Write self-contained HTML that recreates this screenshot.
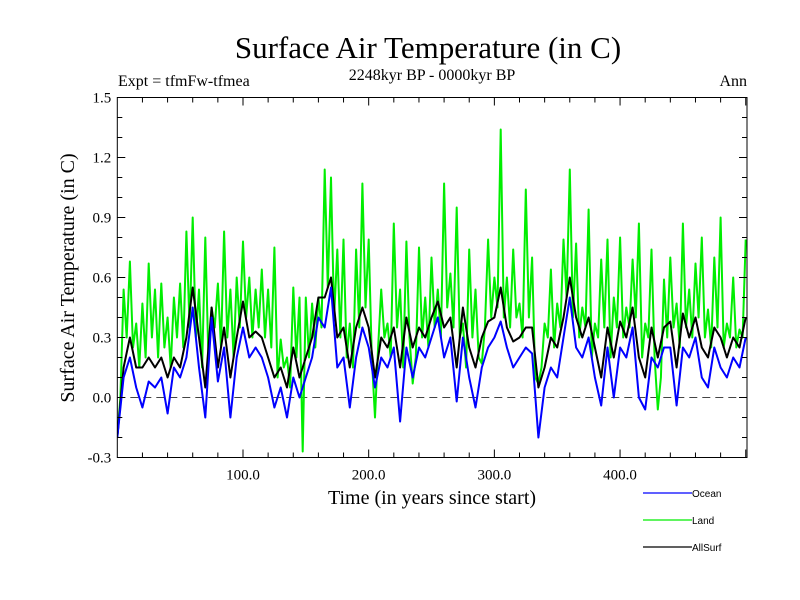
<!DOCTYPE html>
<html><head><meta charset="utf-8"><style>
body{margin:0;background:#fff}
svg{display:block}
text{font-family:"Liberation Serif",serif;fill:#000}
</style></head><body>
<svg id="chart" width="800" height="600" viewBox="0 0 800 600" xmlns="http://www.w3.org/2000/svg">
<text x="428" y="58" font-size="31" text-anchor="middle">Surface Air Temperature (in C)</text>
<text x="432" y="80" font-size="16" text-anchor="middle">2248kyr BP - 0000kyr BP</text>
<text x="118" y="86" font-size="16">Expt = tfmFw-tfmea</text>
<text x="747" y="86" font-size="16" text-anchor="end">Ann</text>
<text transform="translate(74,278) rotate(-90)" font-size="20" text-anchor="middle">Surface Air Temperature (in C)</text>
<text x="432" y="504" font-size="20" text-anchor="middle">Time (in years since start)</text>
<g id="plot"></g>
<g id="axes"></g>
<g id="legend"></g>
</svg>
<script>
const yearStart = 0;
const yearStep = 5;
const oceanValues = [-0.2,0.1,0.2,0.05,-0.05,0.08,0.05,0.1,-0.08,0.15,0.1,0.2,0.45,0.15,-0.1,0.4,0.08,0.25,-0.1,0.2,0.35,0.2,0.25,0.2,0.1,-0.05,0.05,-0.1,0.1,0.0,0.1,0.2,0.4,0.35,0.55,0.15,0.2,-0.05,0.2,0.35,0.25,0.05,0.2,0.15,0.25,-0.12,0.25,0.1,0.25,0.2,0.3,0.4,0.2,0.3,-0.02,0.3,0.1,-0.05,0.15,0.25,0.3,0.38,0.25,0.15,0.2,0.25,0.22,-0.2,0.05,0.15,0.1,0.3,0.5,0.25,0.2,0.3,0.1,-0.04,0.25,0.0,0.25,0.2,0.35,0.0,-0.06,0.2,0.15,0.25,0.25,-0.04,0.25,0.2,0.3,0.1,0.05,0.25,0.15,0.1,0.2,0.15,0.3];
const allSurfValues = [-0.2,0.15,0.3,0.15,0.15,0.2,0.15,0.2,0.1,0.2,0.15,0.3,0.55,0.3,0.05,0.45,0.15,0.35,0.1,0.3,0.48,0.3,0.33,0.3,0.2,0.1,0.15,0.05,0.25,0.1,0.2,0.3,0.5,0.5,0.6,0.3,0.35,0.15,0.35,0.45,0.35,0.1,0.3,0.25,0.35,0.15,0.4,0.25,0.35,0.3,0.4,0.48,0.35,0.4,0.15,0.45,0.25,0.15,0.3,0.38,0.4,0.55,0.35,0.28,0.3,0.35,0.35,0.05,0.15,0.3,0.25,0.4,0.6,0.4,0.3,0.4,0.25,0.1,0.35,0.2,0.38,0.3,0.45,0.2,0.1,0.35,0.2,0.35,0.38,0.15,0.42,0.3,0.4,0.25,0.2,0.35,0.3,0.2,0.3,0.25,0.4];
const landPeaks = [-0.2,0.54,0.68,0.37,0.47,0.67,0.54,0.57,0.4,0.5,0.57,0.83,0.9,0.54,0.8,0.45,0.57,0.83,0.54,0.6,0.78,0.6,0.54,0.64,0.54,0.75,0.29,0.2,0.55,0.5,0.5,0.47,0.5,1.14,1.1,0.74,0.79,0.37,0.74,1.07,0.79,-0.1,0.54,0.37,0.87,0.54,0.78,0.07,0.75,0.5,0.7,0.54,1.07,0.62,0.95,0.37,0.74,0.54,0.17,0.79,0.6,1.34,0.6,0.74,0.47,1.04,0.7,0.07,0.37,0.64,0.47,0.79,1.14,0.77,0.45,0.94,0.37,0.69,0.79,0.5,0.8,0.45,0.69,0.87,0.37,0.74,-0.06,0.59,0.7,0.47,0.87,0.54,0.67,0.8,0.44,0.7,0.9,0.37,0.6,0.34,0.79];
const landTroughs = [0.0,0.3,0.25,0.15,0.2,0.3,0.2,0.25,0.15,0.3,0.25,0.35,0.3,0.15,0.2,0.35,0.25,0.3,0.2,0.35,0.4,0.3,0.35,0.3,0.25,0.1,0.15,0.05,0.2,-0.27,0.2,0.25,0.35,0.55,0.4,0.3,0.2,0.15,0.35,0.45,0.2,0.25,0.3,0.2,0.35,0.15,0.3,0.2,0.3,0.25,0.35,0.3,0.45,0.35,0.3,0.15,0.3,0.2,0.35,0.4,0.45,0.4,0.35,0.4,0.3,0.4,0.1,0.15,0.3,0.25,0.35,0.5,0.4,0.3,0.35,0.2,0.3,0.35,0.2,0.35,0.3,0.35,0.4,0.2,0.3,0.2,0.1,0.3,0.35,0.25,0.35,0.3,0.4,0.3,0.25,0.35,0.25,0.3,0.25,0.3];
const yTickLabels = ["-0.3","0.0","0.3","0.6","0.9","1.2","1.5"];
const xTickLabels = ["100.0","200.0","300.0","400.0"];
const legendNames = ["Ocean","Land","AllSurf"];
const legendColors = ["#0000ff","#00ee00","#000000"];

const X0=117.3, X1=747, Y0=97.5, Y1=457.5, XMIN=0, XMAX=501, YMIN=-0.3, YMAX=1.5;
const xs = v => X0 + (v-XMIN)/(XMAX-XMIN)*(X1-X0);
const ys = v => Y1 - (v-YMIN)/(YMAX-YMIN)*(Y1-Y0);
const NS="http://www.w3.org/2000/svg";
const plot=document.getElementById('plot'), axes=document.getElementById('axes'), legend=document.getElementById('legend');
function mk(tag, attrs, parent){const e=document.createElementNS(NS,tag);for(const k in attrs)e.setAttribute(k,attrs[k]);parent.appendChild(e);return e;}

// clip
const defs=mk('defs',{},plot);
const cp=mk('clipPath',{id:'clip'},defs);
mk('rect',{x:X0,y:Y0,width:X1-X0,height:Y1-Y0},cp);

// zero line
const zl=mk('line',{x1:X0,x2:X1,y1:ys(0),y2:ys(0),stroke:'#444','stroke-width':1,'stroke-dasharray':'8,5'},plot);



function series(vals, color, name, troughs){
  let pts=[];
  if(troughs){
    for(let i=0;i<vals.length;i++){
      pts.push([yearStart+i*yearStep, vals[i]]);
      if(i<troughs.length) pts.push([yearStart+i*yearStep+yearStep/2, troughs[i]]);
    }
  } else vals.forEach((v,i)=>pts.push([yearStart+i*yearStep, v]));
  const p=mk('polyline',{points:pts.map(q=>xs(q[0]).toFixed(1)+','+ys(q[1]).toFixed(1)).join(' '),fill:'none',stroke:color,'stroke-width':2,'stroke-linejoin':'round','clip-path':'url(#clip)'},plot);
  
  
}
series(landPeaks,'#00ee00','land-series',landTroughs);
series(allSurfValues,'#000000','allsurf-series');
series(oceanValues,'#0000ff','ocean-series');

// frame
const fr=mk('rect',{x:X0,y:Y0,width:X1-X0,height:Y1-Y0,fill:'none',stroke:'#000','stroke-width':1},axes);



// y ticks
for(let k=0;k<=18;k++){
  const v=YMIN+k*0.1, y=ys(v), major=(k%3===0), L=major?8:5;
  mk('line',{x1:X0,x2:X0+L,y1:y,y2:y,stroke:'#000'},axes);
  mk('line',{x1:X1,x2:X1-L,y1:y,y2:y,stroke:'#000'},axes);
}
yTickLabels.forEach(s=>{
  const t=mk('text',{x:X0-6,y:ys(parseFloat(s))+5,'font-size':15,'text-anchor':'end'},axes);
  t.textContent=s;
  
  
});
// x ticks
for(let yv=20;yv<XMAX;yv+=20){
  const x=xs(yv), L=(yv%100===0)?8:5;
  mk('line',{x1:x,x2:x,y1:Y1,y2:Y1-L,stroke:'#000'},axes);
  mk('line',{x1:x,x2:x,y1:Y0,y2:Y0+L,stroke:'#000'},axes);
}
xTickLabels.forEach(s=>{
  const t=mk('text',{x:xs(parseFloat(s)),y:Y1+22,'font-size':15,'text-anchor':'middle'},axes);
  t.textContent=s;
  
  
});
// legend
legendNames.forEach((n,i)=>{
  const y=493+i*27;
  const g=mk('g',{},legend);
  
  
  mk('line',{x1:643,x2:692,y1:y,y2:y,stroke:legendColors[i],'stroke-width':1.3},g);
  const t=mk('text',{x:692,y:y+4,'font-size':10,style:'font-family:"Liberation Sans",sans-serif'},g);
  t.textContent=n;
});
</script>
</body></html>
